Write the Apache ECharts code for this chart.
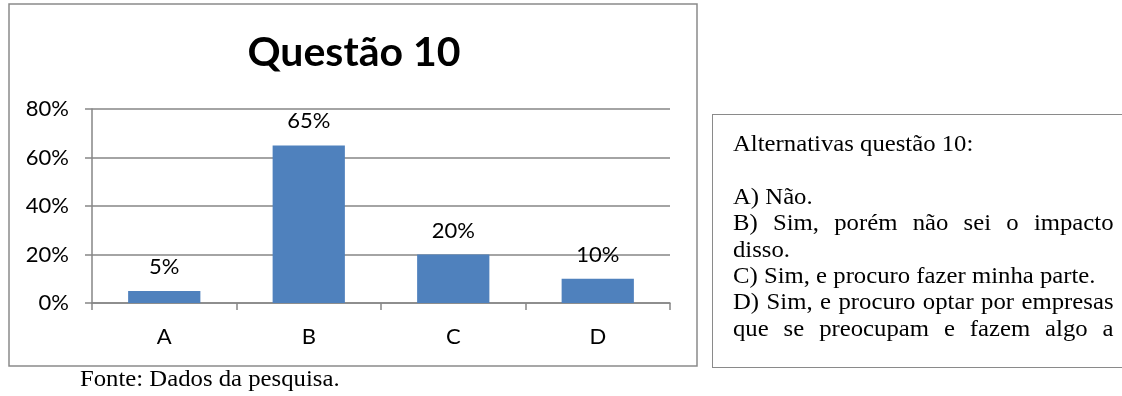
<!DOCTYPE html>
<html>
<head>
<meta charset="utf-8">
<script src="https://cdn.jsdelivr.net/npm/echarts@6/dist/echarts.min.js"></script>
<style>
  html, body { margin: 0; padding: 0; background: #fff; }
  #chart { position: absolute; left: 0; top: 0; width: 1122px; height: 396px; }
  #caixa {
    position: absolute; left: 712px; top: 114px; width: 410px; height: 252px;
    border: 1px solid #8a8a8a; border-right: none; overflow: hidden;
  }
  #alternativas {
    position: absolute; left: 20px; top: 16px; width: 354px;
    transform: scaleX(1.075); transform-origin: 0 0;
    font-family: "Liberation Serif", "DejaVu Serif", serif; font-size: 23px;
    line-height: 26.4px; color: #000; text-align: justify;
  }
  #alternativas p { margin: 0; }
  #alternativas p.last { text-align-last: justify; }
</style>
</head>
<body>
<div id="chart"></div>
<div id="caixa"><div id="alternativas"></div></div>
<script>
// dados da pesquisa
const categorias = ['A', 'B', 'C', 'D'];
const valores = [0.05, 0.65, 0.20, 0.10];
const yTicks = [0, 0.2, 0.4, 0.6, 0.8];
const titulo = 'Questão 10';
const fonte = 'Fonte: Dados da pesquisa.';
const cabecalho = 'Alternativas questão 10:';
const alternativas = [
  'A) Não.',
  'B) Sim, porém não sei o impacto disso.',
  'C) Sim, e procuro fazer minha parte.',
  'D) Sim, e procuro optar por empresas que se preocupam e fazem algo a'
];

// caixa de texto lateral
let box = document.getElementById('alternativas');
let html = '<p>' + cabecalho + '</p><p>&nbsp;</p>';
for (let i = 0; i < alternativas.length; i++) {
  let cls = (i == alternativas.length - 1) ? ' class="last"' : '';
  html += '<p' + cls + '>' + alternativas[i] + '</p>';
}
box.innerHTML = html;

let myChart = echarts.init(document.getElementById('chart'));
let pct = function (v) { return Math.round(v * 100) + '%'; };
let option = {
  animation: false,
  textStyle: { fontFamily: 'Lato' },
  title: {
    text: titulo,
    left: 349, top: 27,
    textAlign: 'center',
    textStyle: { fontFamily: 'Lato', fontWeight: 'bold', fontSize: 41, color: '#000' }
  },
  grid: { left: 92, right: 452, top: 109, bottom: 93 },
  xAxis: {
    type: 'category',
    data: categorias,
    axisLine: { lineStyle: { color: '#868686', width: 1.5 } },
    axisTick: { show: true, length: 7, lineStyle: { color: '#868686', width: 1.5 } },
    axisLabel: { color: '#000', fontSize: 22, margin: 23, fontFamily: 'Lato' }
  },
  yAxis: {
    type: 'value',
    min: 0, max: 0.8, interval: 0.2,
    axisLine: { show: true, lineStyle: { color: '#868686', width: 1.5 } },
    axisTick: { show: true, length: 7, lineStyle: { color: '#868686', width: 1.5 } },
    splitLine: { lineStyle: { color: '#868686', width: 1.5 } },
    axisLabel: {
      color: '#000', fontSize: 22, margin: 23, fontFamily: 'Lato',
      formatter: function (v) { return yTicks.indexOf(Math.round(v * 10) / 10) >= 0 ? pct(v) : ''; }
    }
  },
  series: [{
    type: 'bar',
    data: valores,
    barWidth: '50%',
    itemStyle: { color: '#4F81BD' },
    label: {
      show: true, position: 'top', distance: 13,
      color: '#000', fontSize: 22, fontFamily: 'Lato',
      formatter: function (p) { return pct(p.value); }
    }
  }],
  graphic: [
    {
      type: 'rect', silent: true, z: -1,
      shape: { x: 9, y: 4, width: 688, height: 362 },
      style: { fill: 'none', stroke: '#8a8a8a', lineWidth: 1.5 }
    },
    {
      type: 'text', x: 80, y: 380, scaleX: 1.075,
      style: {
        text: fonte, font: '23px "Liberation Serif", serif', fill: '#000',
        verticalAlign: 'middle', textVerticalAlign: 'middle'
      }
    }
  ]
};
myChart.setOption(option);
window.addEventListener('resize', function () { myChart.resize(); });
</script>
</body>
</html>
